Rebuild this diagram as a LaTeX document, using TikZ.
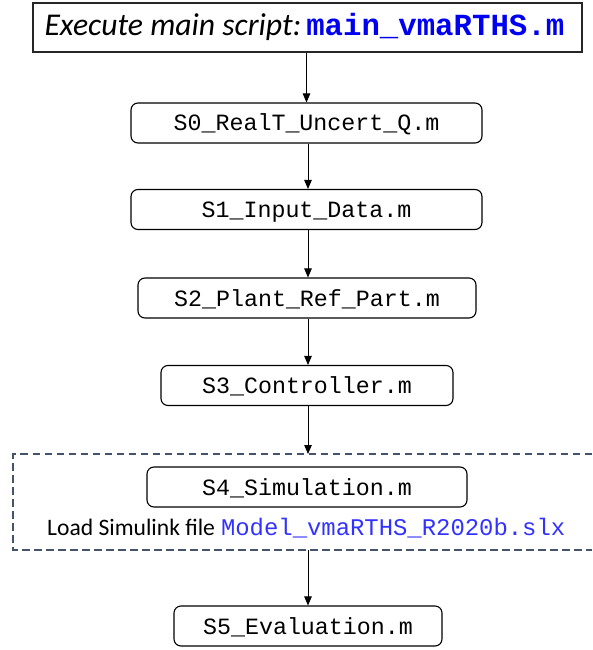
\documentclass[tikz,border=0pt]{standalone}
\usepackage{fontspec}
\setmonofont{Liberation Mono}
\newfontfamily\carlito{Carlito}
\usetikzlibrary{arrows.meta}
\definecolor{topblue}{RGB}{0,0,240}
\definecolor{simblue}{RGB}{50,50,255}
\definecolor{dashcol}{RGB}{68,84,106}
\tikzset{
  mbox/.style={draw, rounded corners=7pt, line width=1.1pt, inner sep=0pt,
    minimum height=40pt, text height=16pt, text depth=0pt,
    font=\ttfamily\fontsize{23.3}{28}\selectfont},
  topbox/.style={draw=black!85, line width=1.1pt, inner sep=0pt,
    minimum height=49pt, text height=16pt, text depth=0pt},
  flow/.style={-{Triangle[length=9pt,width=7.5pt]}, line width=0.8pt},
  dashbox/.style={draw=dashcol, line width=1.6pt, dash pattern=on 7.5pt off 4.5pt},
}
\begin{document}
\begin{tikzpicture}[x=1pt,y=-1pt]
\useasboundingbox (0,0) rectangle (592,650);
\node[topbox, minimum width=549pt] (top) at (307.5,27.5)
  {\makebox[549pt][l]{\hspace{11.5pt}{\carlito\itshape\fontsize{31.7}{36}\selectfont Execute main script:}\hspace{5pt}{\color{topblue}\ttfamily\bfseries\fontsize{30.7}{36}\selectfont main\_vmaRTHS.m}}};
\node[mbox, minimum width=351pt] (s0) at (306.5,123) {S0\_RealT\_Uncert\_Q.m};
\node[mbox, minimum width=351pt] (s1) at (306.5,209.5) {S1\_Input\_Data.m};
\node[mbox, minimum width=338pt] (s2) at (307,298) {S2\_Plant\_Ref\_Part.m};
\node[mbox, minimum width=292pt] (s3) at (307,385.5) {S3\_Controller.m};
\node[mbox, minimum width=320pt] (s4) at (307,487) {S4\_Simulation.m};
\node[mbox, minimum width=268pt] (s5) at (308,626) {S5\_Evaluation.m};
\node[anchor=base west, inner sep=0pt] (load) at (47,535)
  {{\carlito\fontsize{23.6}{28}\selectfont Load Simulink file}\hspace{6pt}{\color{simblue}\ttfamily\fontsize{23.9}{28}\selectfont Model\_vmaRTHS\_R2020b.slx}};
\draw[dashbox] (592,454) -- (13,454) -- (13,550) -- (592,550);
\coordinate (dtop) at (308,454);
\coordinate (dbot) at (308,550);
\draw[flow] (top.south -| s0.north) -- (s0.north);
\draw[flow] (s0.south -| 308,0) -- (s1.north -| 308,0);
\draw[flow] (s1.south -| 308,0) -- (s2.north -| 308,0);
\draw[flow] (s2.south -| 308,0) -- (s3.north -| 308,0);
\draw[flow] (s3.south -| dtop) -- (dtop);
\draw[flow] (dbot) -- (s5.north);
\end{tikzpicture}
\end{document}
